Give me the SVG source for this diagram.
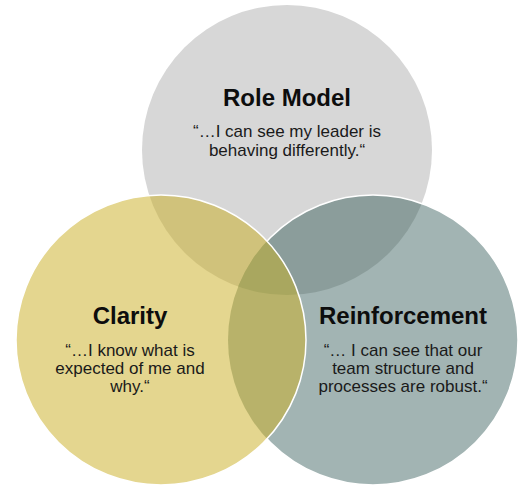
<svg xmlns="http://www.w3.org/2000/svg" width="532" height="491" viewBox="0 0 532 491">
<style>
.t{font-family:"Liberation Sans",Arial,sans-serif;font-weight:bold;font-size:24px;fill:#0d0d0d;text-anchor:middle}
.s{font-family:"Liberation Sans",Arial,sans-serif;font-size:17px;fill:#1a1a1a;text-anchor:middle}
.edge{fill:none;stroke:#ffffff;stroke-width:1.5}
</style>
<defs>
<clipPath id="cTop"><circle cx="287" cy="150" r="145"/></clipPath>
<clipPath id="cRight"><circle cx="373" cy="340" r="145"/></clipPath>
<clipPath id="cLeft"><circle cx="161" cy="340" r="145"/></clipPath>
</defs>
<g id="shapes">
<circle cx="287" cy="150" r="145" fill="#d7d7d7"/>
<circle cx="373" cy="340" r="145" fill="#a2b4b3"/>
<circle cx="373" cy="340" r="145" fill="#8b9d9b" clip-path="url(#cTop)"/>
<circle class="edge" cx="373" cy="340" r="145"/>
<circle cx="161" cy="340" r="145" fill="#e4d68f"/>
<circle cx="161" cy="340" r="145" fill="#d0c27b" clip-path="url(#cTop)"/>
<circle cx="161" cy="340" r="145" fill="#b8b26a" clip-path="url(#cRight)"/>
<g clip-path="url(#cTop)"><circle cx="161" cy="340" r="145" fill="#a9a75f" clip-path="url(#cRight)"/></g>
<circle class="edge" cx="161" cy="340" r="145"/>
</g>
<g id="role-model">
<text class="t" x="287" y="106">Role Model</text>
<text class="s" x="287" y="137">“…I can see my leader is</text>
<text class="s" x="287" y="156">behaving differently.“</text>
</g>
<g id="clarity">
<text class="t" x="130" y="324">Clarity</text>
<text class="s" x="130" y="356">“…I know what is</text>
<text class="s" x="130" y="374">expected of me and</text>
<text class="s" x="130" y="392">why.“</text>
</g>
<g id="reinforcement">
<text class="t" x="403" y="324">Reinforcement</text>
<text class="s" x="403" y="356">“… I can see that our</text>
<text class="s" x="403" y="374">team structure and</text>
<text class="s" x="403" y="392">processes are robust.“</text>
</g>
<g id="connectors"/>
</svg>
